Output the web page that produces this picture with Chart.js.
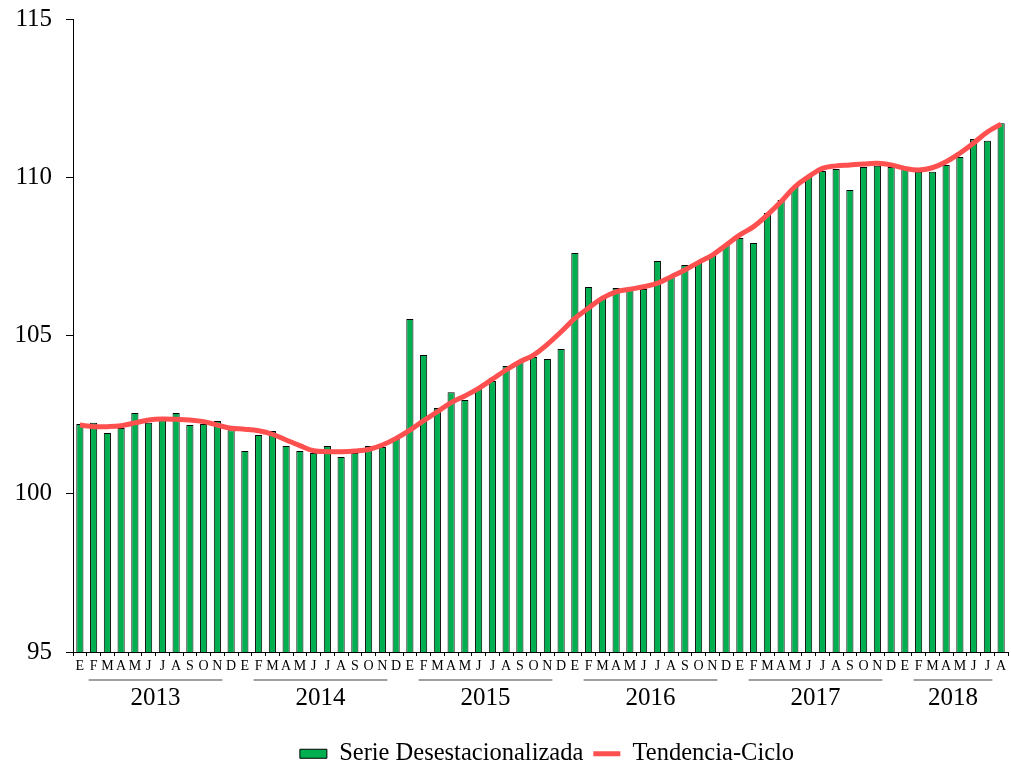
<!DOCTYPE html>
<html lang="es">
<head>
    <meta charset="UTF-8">
    <title>Serie Desestacionalizada y Tendencia-Ciclo</title>
    <script src="https://cdn.jsdelivr.net/npm/chart.js@4.4.1/dist/chart.umd.min.js"></script>
    <style>
        html, body { margin: 0; padding: 0; background: #fff; }
        #wrap { width: 1011px; height: 768px; position: relative; }
    </style>
</head>
<body>
    <div id="wrap"><canvas id="chart"></canvas></div>

    <script>
        // Data
        const monthInitials = ['E', 'F', 'M', 'A', 'M', 'J', 'J', 'A', 'S', 'O', 'N', 'D'];
        const years = ['2013', '2014', '2015', '2016', '2017', '2018'];
        const yTicks = [95, 100, 105, 110, 115];

        const serieDesest = [
            102.20, 102.24, 101.92, 102.08, 102.55, 102.24, 102.33, 102.55, 102.17, 102.20, 102.30, 102.01,
            101.35, 101.86, 101.98, 101.51, 101.35, 101.29, 101.51, 101.16, 101.29, 101.51, 101.48, 101.73,
            105.52, 104.38, 102.71, 103.21, 102.96, 103.34, 103.56, 104.04, 104.16, 104.32, 104.26, 104.57,
            107.61, 106.53, 106.18, 106.50, 106.44, 106.47, 107.35, 106.85, 107.23, 107.29, 107.54, 107.86,
            108.08, 107.92, 108.87, 109.28, 109.69, 110.01, 110.20, 110.26, 109.60, 110.32, 110.36, 110.32,
            110.29, 110.17, 110.17, 110.39, 110.64, 111.21, 111.15, 111.71
        ];

        const tendenciaCiclo = [
            102.17, 102.12, 102.12, 102.15, 102.24, 102.33, 102.36, 102.35, 102.33, 102.28, 102.17, 102.07,
            102.04, 101.99, 101.88, 101.70, 101.52, 101.36, 101.33, 101.33, 101.35, 101.40, 101.54, 101.75,
            102.01, 102.31, 102.59, 102.88, 103.09, 103.33, 103.62, 103.91, 104.17, 104.38, 104.72, 105.12,
            105.54, 105.87, 106.18, 106.38, 106.46, 106.54, 106.65, 106.86, 107.07, 107.31, 107.54, 107.86,
            108.18, 108.44, 108.81, 109.23, 109.70, 110.02, 110.28, 110.36, 110.39, 110.42, 110.44, 110.39,
            110.28, 110.23, 110.30, 110.49, 110.76, 111.08, 111.43, 111.68
        ];

        const labels = serieDesest.map((v, i) => monthInitials[i % 12]);
        const FONT = "'Liberation Serif', 'Times New Roman', serif";

        // year labels with underline below the month letters
        const yearLabels = {
            id: 'yearLabels',
            afterLayout(chart) {
                // legend sits a bit lower and to the right in the original
                const lg = chart.legend;
                lg.left += 43; lg.right += 43;
                lg.top += 8; lg.bottom += 8;
            },
            afterDraw(chart) {
                const x = chart.scales.x;
                const ctx = chart.ctx;
                ctx.save();
                years.forEach((yr, k) => {
                    const first = k * 12;
                    const last = Math.min(first + 11, labels.length - 1);
                    const cx = (x.getPixelForValue(first) + x.getPixelForValue(last)) / 2;
                    const x1 = x.getPixelForValue(first + 1) - 5;
                    const x2 = x.getPixelForValue(last - 1) + 5;
                    ctx.strokeStyle = '#808080';
                    ctx.lineWidth = 1.5;
                    ctx.beginPath();
                    ctx.moveTo(x1, 680);
                    ctx.lineTo(x2, 680);
                    ctx.stroke();
                    ctx.fillStyle = '#000';
                    ctx.font = '25px ' + FONT;
                    ctx.textAlign = 'center';
                    ctx.textBaseline = 'middle';
                    ctx.fillText(yr, cx, 698);
                });
                ctx.restore();
            }
        };

        new Chart(document.getElementById('chart'), {
            data: {
                labels: labels,
                datasets: [{
                    type: 'line',
                    label: 'Tendencia-Ciclo',
                    data: tendenciaCiclo,
                    borderColor: '#ff5050',
                    backgroundColor: '#ff5050',
                    borderWidth: 5,
                    pointRadius: 0,
                    pointStyle: 'line',
                    tension: 0.4,
                    order: 0
                }, {
                    type: 'bar',
                    label: 'Serie Desestacionalizada',
                    data: serieDesest,
                    backgroundColor: '#00b050',
                    borderColor: '#000',
                    borderWidth: 1,
                    pointStyle: 'rect',
                    barPercentage: 0.52,
                    categoryPercentage: 1,
                    order: 1
                }]
            },
            options: {
                responsive: true,
                maintainAspectRatio: false,
                animation: false,
                layout: { padding: { top: 19, right: 3, left: 0, bottom: 0 } },
                plugins: {
                    tooltip: { enabled: false },
                    legend: {
                        position: 'bottom',
                        reverse: true,
                        labels: {
                            usePointStyle: true,
                            pointStyleWidth: 27,
                            boxHeight: 9,
                            padding: 10,
                            color: '#000',
                            font: { family: FONT, size: 24.5 }
                        }
                    }
                },
                scales: {
                    x: {
                        grid: { display: true, drawOnChartArea: false, tickLength: 4, color: '#000' },
                        border: { color: '#000', width: 1 },
                        ticks: {
                            autoSkip: false,
                            maxRotation: 0,
                            padding: 2,
                            color: '#000',
                            font: { family: FONT, size: 14 }
                        },
                        afterFit(scale) { scale.height = 71.5; }
                    },
                    y: {
                        min: 95,
                        max: 115,
                        afterBuildTicks(scale) { scale.ticks = yTicks.map(v => ({ value: v })); },
                        grid: { display: true, drawOnChartArea: false, tickLength: 7, color: '#000' },
                        border: { color: '#000', width: 1 },
                        ticks: {
                            padding: 14,
                            color: '#000',
                            font: { family: FONT, size: 25 }
                        },
                        afterFit(scale) {
                            scale.width = 73;
                            scale.paddingTop = 0;
                            scale.paddingBottom = 0;
                        }
                    }
                }
            },
            plugins: [yearLabels]
        });
    </script>
</body>
</html>
